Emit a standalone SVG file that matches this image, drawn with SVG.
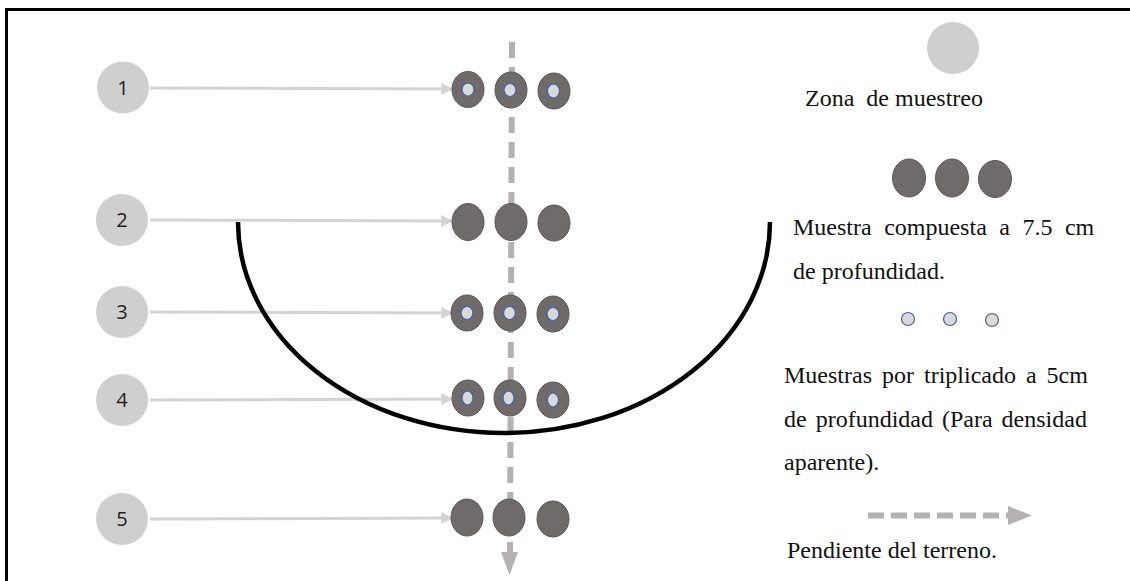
<svg xmlns="http://www.w3.org/2000/svg" width="1130" height="581" viewBox="0 0 1130 581">
<defs>
<style>
.frame{fill:none;stroke:#000;stroke-width:3}
.zone{fill:#d0cfcf}
.num{font-family:"Open Sans","Liberation Sans",sans-serif;font-size:20px;fill:#222;text-anchor:middle}
.conn{stroke:#d3d3d3;stroke-width:3;fill:none}
.dot{fill:#6f6b6a;stroke:#5a5756;stroke-width:1}
.core{fill:#d9d9d9;stroke:#3f62a8;stroke-width:1.2}
.slope{stroke:#b3b1b1;stroke-width:6;stroke-dasharray:16 9;fill:none}
.arc{fill:none;stroke:#000;stroke-width:4.5}
.lbl{font-family:"Liberation Serif","Times New Roman",serif;font-size:24px;fill:#111}
</style>
<marker id="ah" viewBox="0 0 10 10" refX="9" refY="5" markerWidth="4" markerHeight="4" orient="auto" markerUnits="strokeWidth">
<path d="M0,0 L10,5 L0,10 z" fill="#d3d3d3"/>
</marker>
</defs>
<rect width="1130" height="581" fill="#fff"/>
<path class="frame" d="M6.5 590 V9.5 H1140"/>

<g id="connectors">
<line class="conn" x1="150" y1="88" x2="452" y2="89" marker-end="url(#ah)"/>
<line class="conn" x1="150" y1="220" x2="452" y2="221" marker-end="url(#ah)"/>
<line class="conn" x1="150" y1="312" x2="452" y2="313" marker-end="url(#ah)"/>
<line class="conn" x1="150" y1="400" x2="452" y2="399" marker-end="url(#ah)"/>
<line class="conn" x1="150" y1="519" x2="452" y2="518" marker-end="url(#ah)"/>
</g>

<g id="slope-line">
<line class="slope" x1="512" y1="42" x2="510" y2="554"/>
<path d="M501 552 L518 552 L509.5 575 z" fill="#b3b1b1"/>
</g>

<g id="zone-arc">
<path class="arc" d="M238 222 A266 211 0 0 0 770 222"/>
</g>

<g id="node-1">
<circle class="zone" cx="123" cy="87.5" r="26"/>
<text class="num" x="123" y="94.5">1</text>
</g>
<g id="node-2">
<circle class="zone" cx="122" cy="220" r="26"/>
<text class="num" x="122" y="227">2</text>
</g>
<g id="node-3">
<circle class="zone" cx="122" cy="312" r="26"/>
<text class="num" x="122" y="319">3</text>
</g>
<g id="node-4">
<circle class="zone" cx="122" cy="400" r="26"/>
<text class="num" x="122" y="407">4</text>
</g>
<g id="node-5">
<circle class="zone" cx="122" cy="519" r="26"/>
<text class="num" x="122" y="526">5</text>
</g>

<g id="samples-1">
<ellipse class="dot" cx="468" cy="89.5" rx="16" ry="18"/>
<ellipse class="dot" cx="511" cy="90" rx="16" ry="18"/>
<ellipse class="dot" cx="554" cy="91" rx="16" ry="18"/>
<ellipse class="core" cx="468" cy="89.5" rx="6" ry="6.5"/>
<ellipse class="core" cx="510" cy="90" rx="6" ry="6.5"/>
<ellipse class="core" cx="553.5" cy="91" rx="6" ry="7"/>
</g>
<g id="samples-2">
<ellipse class="dot" cx="468" cy="222" rx="16" ry="18.5"/>
<ellipse class="dot" cx="511" cy="222" rx="16" ry="18.5"/>
<ellipse class="dot" cx="554" cy="223" rx="16" ry="18"/>
</g>
<g id="samples-3">
<ellipse class="dot" cx="467" cy="313" rx="16" ry="18"/>
<ellipse class="dot" cx="510" cy="313" rx="16" ry="18"/>
<ellipse class="dot" cx="553" cy="314" rx="16" ry="18"/>
<ellipse class="core" cx="467" cy="313" rx="6" ry="6.5"/>
<ellipse class="core" cx="509.5" cy="313" rx="6" ry="6.5"/>
<ellipse class="core" cx="553" cy="314" rx="6" ry="6.5"/>
</g>
<g id="samples-4">
<ellipse class="dot" cx="468" cy="398" rx="16" ry="18"/>
<ellipse class="dot" cx="510" cy="398" rx="16" ry="18"/>
<ellipse class="dot" cx="553" cy="400" rx="16" ry="18"/>
<ellipse class="core" cx="467.5" cy="398" rx="5.5" ry="7"/>
<ellipse class="core" cx="508.5" cy="398" rx="5.5" ry="7"/>
<ellipse class="core" cx="553" cy="400" rx="5.5" ry="7"/>
</g>
<g id="samples-5">
<ellipse class="dot" cx="467" cy="517.5" rx="16" ry="18.5"/>
<ellipse class="dot" cx="509" cy="517.5" rx="16" ry="18.5"/>
<ellipse class="dot" cx="553" cy="519" rx="16" ry="18"/>
</g>

<g id="legend-zone">
<circle class="zone" cx="953" cy="48" r="26"/>
<text class="lbl" x="805" y="106" xml:space="preserve">Zona  de muestreo</text>
</g>
<g id="legend-composite">
<ellipse class="dot" cx="909" cy="178" rx="16.5" ry="19"/>
<ellipse class="dot" cx="952" cy="178" rx="16.5" ry="19"/>
<ellipse class="dot" cx="995" cy="179" rx="16.5" ry="18.5"/>
<text class="lbl" x="793" y="235" word-spacing="6.5">Muestra compuesta a 7.5 cm</text>
<text class="lbl" x="793" y="279">de profundidad.</text>
</g>
<g id="legend-triplicate">
<circle class="core" cx="908" cy="319" r="6.5"/>
<circle class="core" cx="950" cy="319" r="6.5"/>
<circle class="core" cx="992" cy="320" r="6.5"/>
<text class="lbl" x="784" y="383" word-spacing="4">Muestras por triplicado a 5cm</text>
<text class="lbl" x="784" y="427" word-spacing="3">de profundidad (Para densidad</text>
<text class="lbl" x="784" y="470">aparente).</text>
</g>
<g id="legend-slope">
<line x1="868" y1="515.5" x2="1008" y2="515.5" stroke="#b3b1b1" stroke-width="6" stroke-dasharray="16 7"/>
<path d="M1008 506 L1032 515.5 L1008 525 z" fill="#b3b1b1"/>
<text class="lbl" x="787" y="558">Pendiente del terreno.</text>
</g>
</svg>
